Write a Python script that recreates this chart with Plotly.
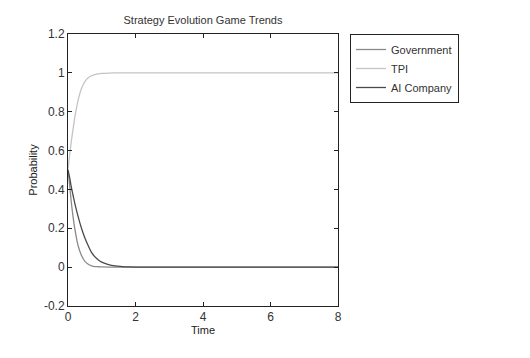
import plotly.graph_objects as go

time = [0, 0.05, 0.1, 0.15, 0.2, 0.3, 0.4, 0.5, 0.6, 0.7, 0.8, 0.9, 1.0, 1.2, 1.4, 1.6, 1.8, 2.0, 4.0, 6.0, 8.0]
government = [0.5, 0.42, 0.33, 0.26, 0.2, 0.11, 0.06, 0.03, 0.015, 0.007, 0.003, 0.002, 0.001, 0, 0, 0, 0, 0, 0, 0, 0]
tpi = [0.5, 0.58, 0.65, 0.71, 0.77, 0.86, 0.92, 0.955, 0.975, 0.985, 0.991, 0.995, 0.997, 0.999, 1, 1, 1, 1, 1, 1, 1]
ai_company = [0.5, 0.46, 0.41, 0.37, 0.33, 0.26, 0.2, 0.15, 0.11, 0.075, 0.053, 0.037, 0.026, 0.013, 0.006, 0.003, 0.001, 0, 0, 0, 0]

series = [("Government", government, "#8a8a8a"),
          ("TPI", tpi, "#c4c4c4"),
          ("AI Company", ai_company, "#4a4a4a")]

fig = go.Figure()
for name, vals, col in series:
    fig.add_trace(go.Scatter(x=time, y=vals, mode="lines", name=name,
                             line=dict(color=col, width=1.3, shape="spline")))

axis_common = dict(showgrid=False, zeroline=False, showline=True, linecolor="#222",
                   linewidth=1, mirror="ticks", ticks="inside", ticklen=4,
                   tickcolor="#222", tickfont=dict(size=12, color="#333"),
                   automargin=False)

W, H = 522, 350
fig.update_layout(
    width=W, height=H,
    margin=dict(l=60, r=192, t=26, b=52),
    paper_bgcolor="white", plot_bgcolor="white",
    font=dict(family="Liberation Sans, Arial, sans-serif", color="#222"),
    title=dict(text="Strategy Evolution Game Trends", x=195 / W,
               xanchor="center", y=1 - 12 / H, yanchor="middle",
               font=dict(size=11, color="#333"), automargin=False),
    xaxis=dict(range=[0, 8], tickvals=[0, 2, 4, 6, 8],
               title=dict(text="Time", font=dict(size=11), standoff=0), **axis_common),
    yaxis=dict(range=[-0.2, 1.2], tickvals=[-0.2, 0, 0.2, 0.4, 0.6, 0.8, 1, 1.2],
               ticktext=["-0.2", "0", "0.2", "0.4", "0.6", "0.8", "1", "1.2"],
               title=dict(text="Probability", font=dict(size=11), standoff=4), **axis_common),
    legend=dict(x=(342 - 60) / 270, xanchor="left", y=1, yanchor="top",
                bordercolor="#222", borderwidth=1, bgcolor="white",
                font=dict(size=11, color="#333"), tracegroupgap=0,
                itemwidth=30),
    showlegend=True,
)

fig.write_html("out.html")
